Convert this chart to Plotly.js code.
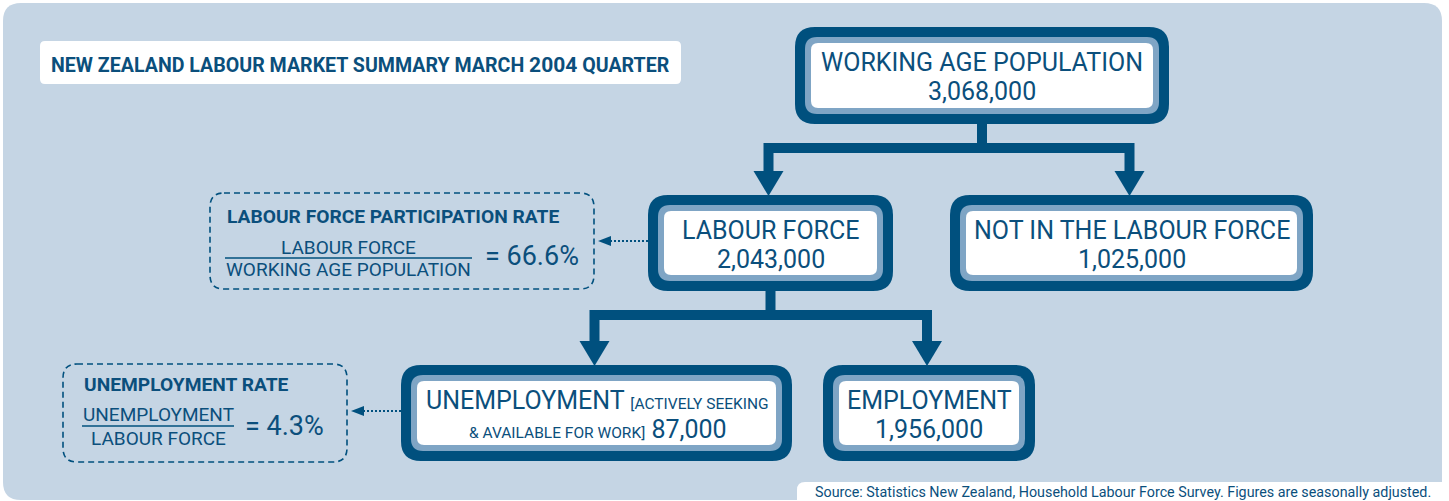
<!DOCTYPE html>
<html>
<head>
<meta charset="utf-8">
<script src="https://cdn.plot.ly/plotly-3.0.1.min.js"></script>
<style>html,body{margin:0;padding:0;background:#fff;}#chart{width:1449px;height:501px;}</style>
</head>
<body>
<div id="chart"></div>
<script>
// ---------------- DATA ----------------
const chartTitle = "NEW ZEALAND LABOUR MARKET SUMMARY MARCH 2004 QUARTER";
const nodeNames = ["WORKING AGE POPULATION", "LABOUR FORCE", "NOT IN THE LABOUR FORCE", "UNEMPLOYMENT", "EMPLOYMENT"];
const nodeValues = [3068000, 2043000, 1025000, 87000, 1956000];
const unemploymentNote = ["[ACTIVELY SEEKING", "& AVAILABLE FOR WORK]"];
const rateNames = ["LABOUR FORCE PARTICIPATION RATE", "UNEMPLOYMENT RATE"];
const rateNumerators = ["LABOUR FORCE", "UNEMPLOYMENT"];
const rateDenominators = ["WORKING AGE POPULATION", "LABOUR FORCE"];
const rateValues = [66.6, 4.3];
const sourceText = "Source: Statistics New Zealand, Household Labour Force Survey. Figures are seasonally adjusted.";

// ---------------- LAYOUT GEOMETRY (pixel-like axis units) ----------------
const DARK = "#00507e", RING = "#7fa5c5", BG = "#c5d5e4", TXT = "#0b4f7c";
const FONT = "Roboto, 'Open Sans', sans-serif";
const boxPos = [
  {x0: 795, y0: 27, x1: 1169, y1: 124},
  {x0: 648, y0: 195, x1: 893, y1: 291},
  {x0: 950, y0: 195, x1: 1313, y1: 291},
  {x0: 401, y0: 365, x1: 792, y1: 461},
  {x0: 823, y0: 365, x1: 1035, y1: 461}
];
const ratePos = [
  {x0: 210, y0: 193, x1: 594, y1: 289, left: 225, fracR: 472, title: 216.5, num: 247, line: 258, den: 269.5, eqX: 483, eqY: 256, arrowY: 241, boxIdx: 1},
  {x0: 63, y0: 364, x1: 347, y1: 462, left: 82, fracR: 234, title: 384.5, num: 414.5, line: 426, den: 438.5, eqX: 243, eqY: 426, arrowY: 411, boxIdx: 3}
];
// tree links: [parent, [children]]
const links = [[0, [1, 2]], [1, [3, 4]]];

function rr(x0, y0, x1, y1, r) {
  return `M${x0 + r},${y0} L${x1 - r},${y0} Q${x1},${y0} ${x1},${y0 + r} L${x1},${y1 - r} Q${x1},${y1} ${x1 - r},${y1} L${x0 + r},${y1} Q${x0},${y1} ${x0},${y1 - r} L${x0},${y0 + r} Q${x0},${y0} ${x0 + r},${y0} Z`;
}
const fmt = v => v.toLocaleString("en-US");

const shapes = [];
const ann = [];
function A(o) {
  ann.push(Object.assign({xref: "x", yref: "y", showarrow: false, xanchor: "center", yanchor: "middle",
    font: {family: FONT, size: 25, color: TXT}}, o));
}

// background panel
shapes.push({type: "path", path: rr(3, 3, 1442, 500, 18), fillcolor: BG, line: {width: 0}, layer: "below"});
// title box
shapes.push({type: "path", path: rr(40, 41, 681, 84, 5), fillcolor: "#ffffff", line: {width: 0}});
A({x: 360, y: 64.5, text: chartTitle.replace("2004", '<span style="font-size:21px">2004</span>'),
   font: {family: FONT, size: 19.6, color: TXT, weight: "bold"}});
// source box
shapes.push({type: "path", path: rr(797, 482, 1470, 530, 8), fillcolor: "#ffffff", line: {width: 0}});
A({x: 813, y: 491.5, xanchor: "left", text: sourceText, font: {family: FONT, size: 14.3, color: TXT}});

// connectors
links.forEach(([p, kids]) => {
  const pb = boxPos[p];
  const px = (pb.x0 + pb.x1) / 2;
  const c0 = boxPos[kids[0]], c1 = boxPos[kids[1]];
  const cx0 = (c0.x0 + c0.x1) / 2 - 2, cx1 = (c1.x0 + c1.x1) / 2 - 2;
  const barY = pb.y1 + 24, baseY = c0.y0 - 24;
  shapes.push({type: "path", path: `M${px},${pb.y1} L${px},${barY}`, line: {color: DARK, width: 10}});
  shapes.push({type: "path", path: `M${cx0},${baseY + 1} L${cx0},${barY} L${cx1},${barY} L${cx1},${baseY + 1}`, line: {color: DARK, width: 10}});
  [cx0, cx1].forEach(cx => {
    shapes.push({type: "path", path: `M${cx - 15},${baseY} L${cx + 15},${baseY} L${cx},${c0.y0 + 1} Z`, fillcolor: DARK, line: {width: 0}});
  });
});

// node boxes
boxPos.forEach((b, i) => {
  shapes.push({type: "path", path: rr(b.x0, b.y0, b.x1, b.y1, 20), fillcolor: DARK, line: {width: 0}});
  shapes.push({type: "path", path: rr(b.x0 + 10, b.y0 + 10, b.x1 - 10, b.y1 - 10, 12), fillcolor: RING, line: {width: 0}});
  shapes.push({type: "path", path: rr(b.x0 + 16, b.y0 + 16, b.x1 - 16, b.y1 - 16, 7), fillcolor: "#ffffff", line: {width: 0}});
  const cx = (b.x0 + b.x1) / 2;
  if (i === 3) {
    A({x: cx + 1, y: b.y0 + 35.5, text: nodeNames[i] + ' <span style="font-size:15.5px">' + unemploymentNote[0] + '</span>'});
    A({x: cx + 1, y: b.y0 + 64, text: '<span style="font-size:15.5px">' + unemploymentNote[1].replace("&", "&amp;") + '</span> ' + fmt(nodeValues[i])});
  } else {
    A({x: cx, y: b.y0 + 35.5, text: nodeNames[i]});
    A({x: cx, y: b.y0 + 64, text: fmt(nodeValues[i])});
  }
});

// rate boxes
ratePos.forEach((r, i) => {
  shapes.push({type: "path", path: rr(r.x0, r.y0, r.x1, r.y1, 14), line: {color: DARK, width: 1.6, dash: "6px,4px"}});
  A({x: r.left, y: r.title, xanchor: "left", text: rateNames[i], font: {family: FONT, size: 19.2, color: TXT, weight: "bold"}});
  const fc = (r.left + r.fracR) / 2;
  A({x: fc, y: r.num, text: rateNumerators[i], font: {family: FONT, size: 19, color: TXT}});
  A({x: fc, y: r.den, text: rateDenominators[i], font: {family: FONT, size: 19, color: TXT}});
  shapes.push({type: "line", x0: r.left, x1: r.fracR, y0: r.line, y1: r.line, line: {color: DARK, width: 1.6}});
  A({x: r.eqX, y: r.eqY, xanchor: "left", text: "= " + rateValues[i].toFixed(1) + "%", font: {family: FONT, size: 27, color: TXT}});
  // dotted arrow from node box to rate box
  const tb = boxPos[r.boxIdx];
  const tip = r.x1 + 4;
  shapes.push({type: "line", x0: tb.x0, x1: tip + 12, y0: r.arrowY, y1: r.arrowY, line: {color: DARK, width: 2, dash: "2px,2px"}});
  shapes.push({type: "path", path: `M${tip},${r.arrowY} L${tip + 13},${r.arrowY - 5} L${tip + 13},${r.arrowY + 5} Z`, fillcolor: DARK, line: {width: 0}});
});

const layout = {
  width: 1449, height: 501,
  margin: {l: 0, r: 0, t: 0, b: 0, pad: 0},
  paper_bgcolor: "#ffffff", plot_bgcolor: "rgba(0,0,0,0)",
  showlegend: false,
  xaxis: {range: [0, 1449], visible: false, fixedrange: true},
  yaxis: {range: [501, 0], visible: false, fixedrange: true},
  shapes: shapes,
  annotations: ann
};
Plotly.newPlot("chart", [], layout, {staticPlot: true, displayModeBar: false});
</script>
</body>
</html>
